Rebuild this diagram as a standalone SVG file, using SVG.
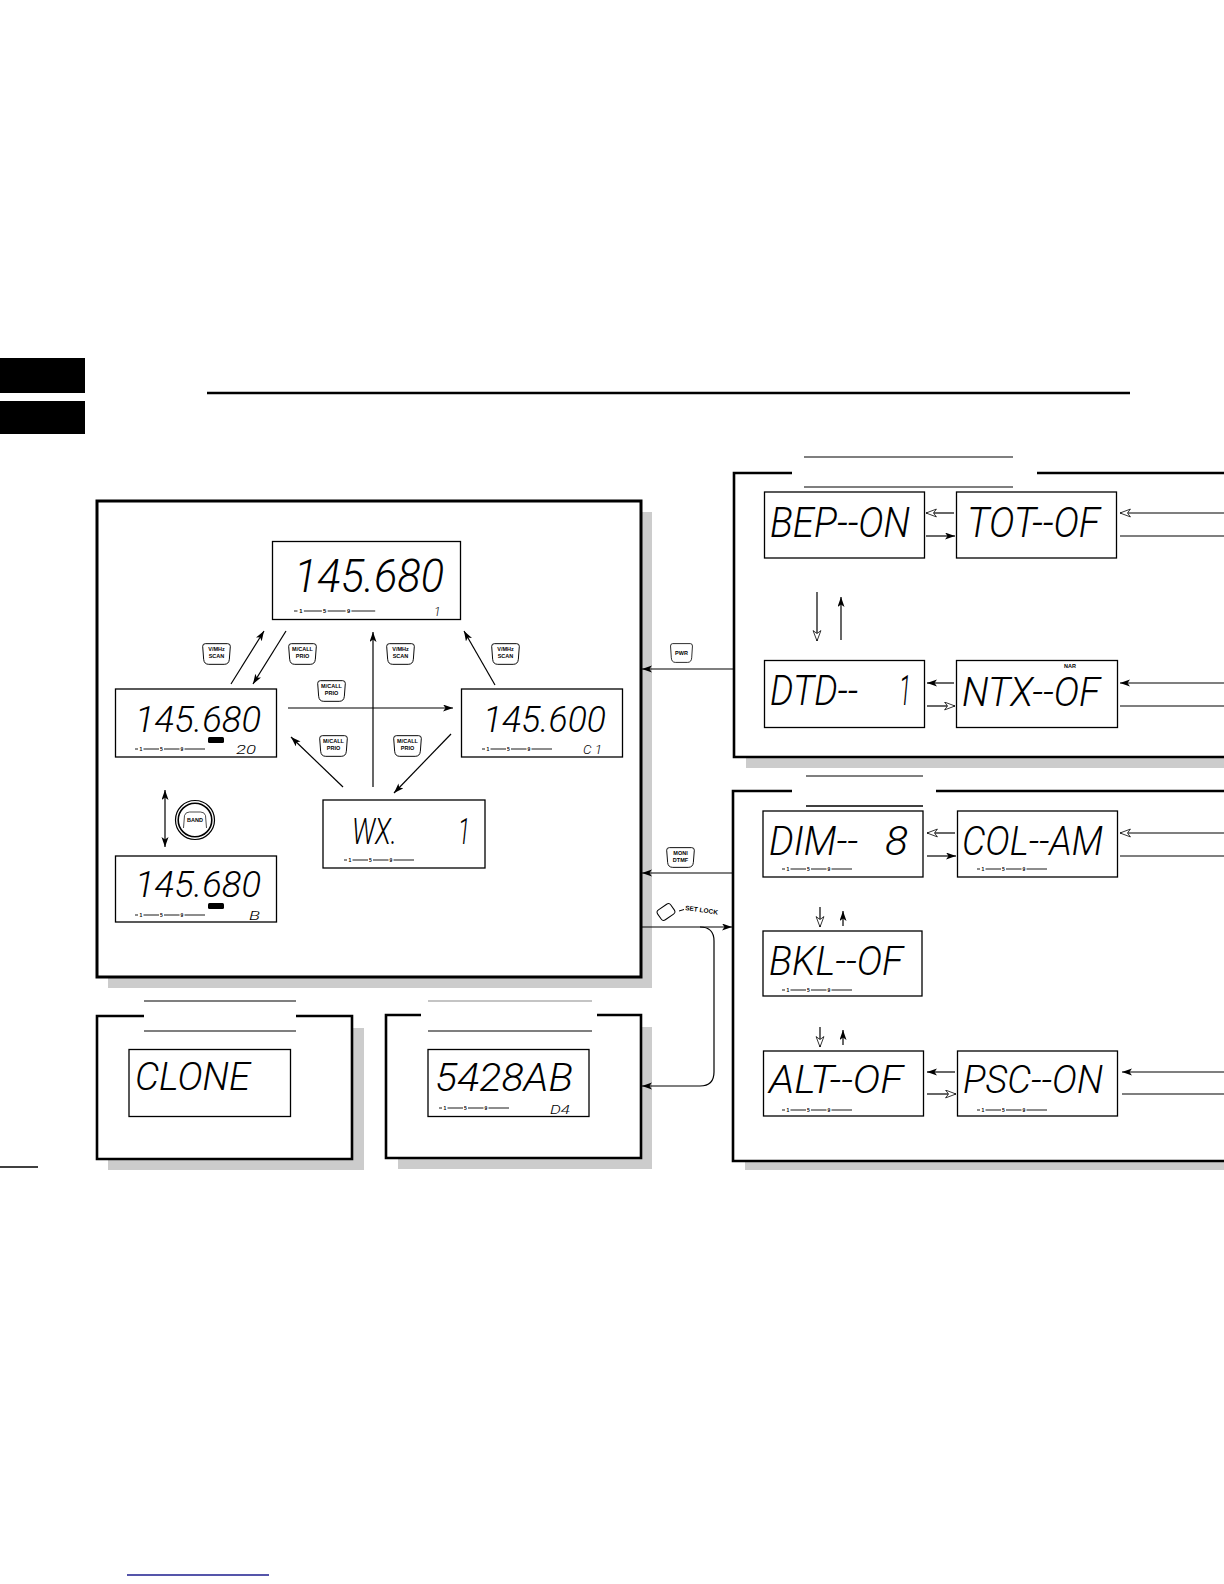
<svg xmlns="http://www.w3.org/2000/svg" xmlns:xlink="http://www.w3.org/1999/xlink" width="1224" height="1584" viewBox="0 0 1224 1584">
<style>
.lcd{fill:#fff;stroke:#000;stroke-width:1.3}
.seg{font-family:Roboto,"Liberation Sans",sans-serif;font-style:italic;font-weight:300;fill:#000}
.lbl{font-family:"Liberation Sans",Arial,sans-serif;font-weight:bold;font-size:5.5px;fill:#000;text-anchor:middle}
.cont{fill:none;stroke:#000;stroke-width:2.6}
.shadow{fill:#cccccc}
.ln{fill:none;stroke:#000;stroke-width:1.2}
.sm{font-family:"Liberation Sans",Arial,sans-serif;font-weight:bold;font-size:5px;fill:#000;text-anchor:middle}
</style>
<defs>
<marker id="aS" markerUnits="userSpaceOnUse" markerWidth="11" markerHeight="8" refX="10" refY="3.5" orient="auto-start-reverse">
<path d="M0,0 L10,3.5 L0,7 L2.5,3.5 Z" fill="#000"/>
</marker>
<marker id="aH" markerUnits="userSpaceOnUse" markerWidth="13" markerHeight="10" refX="11" refY="4.5" orient="auto">
<path d="M0.6,0.6 L11,4.5 L0.6,8.4 L3.5,4.5 Z" fill="#fff" stroke="#000" stroke-width="0.8"/>
</marker>
<symbol id="key" viewBox="0 0 30 23" preserveAspectRatio="none">
<path d="M3.5,0.7 H26.5 Q29.3,0.7 29.3,3.5 L28.3,17 Q27.8,22.3 23,22.3 H7 Q2.2,22.3 1.7,17 L0.7,3.5 Q0.7,0.7 3.5,0.7 Z" fill="#fff" stroke="#000" stroke-width="1"/>
</symbol>
<symbol id="smeter" viewBox="0 0 70 6" width="70" height="6" overflow="visible">
<line x1="0" y1="3" x2="3" y2="3" stroke="#000" stroke-width="0.9"/>
<text x="6" y="5" class="sm">1</text>
<line x1="8.5" y1="3" x2="24" y2="3" stroke="#000" stroke-width="0.9"/>
<text x="26.5" y="5" class="sm">5</text>
<line x1="29" y1="3" x2="44.5" y2="3" stroke="#000" stroke-width="0.9"/>
<text x="47" y="5" class="sm">9</text>
<line x1="49.5" y1="3" x2="70" y2="3" stroke="#000" stroke-width="0.9"/>
</symbol>
</defs>
<rect width="1224" height="1584" fill="#fff"/>

<!-- page header -->
<g id="header">
<rect x="0" y="358" width="85" height="35" fill="#000"/>
<rect x="0" y="401" width="85" height="33" fill="#000"/>
<line x1="207" y1="393" x2="1130" y2="393" stroke="#000" stroke-width="2.5"/>
<line x1="0" y1="1167" x2="38" y2="1167" stroke="#000" stroke-width="1.5"/>
<line x1="127" y1="1575" x2="269" y2="1575" stroke="#1c1c8e" stroke-width="1.5"/>
</g>

<!-- main box -->
<g id="main-box">
<rect x="108" y="512" width="544" height="476" class="shadow"/>
<rect x="97" y="501" width="544" height="476" fill="#fff" stroke="#000" stroke-width="3"/>
</g>

<g id="lcd-top">
<rect x="272.5" y="541.5" width="188" height="78" class="lcd"/>
<text x="294" y="592" class="seg" font-size="46" textLength="150" lengthAdjust="spacingAndGlyphs">145.680</text>
<text x="434" y="615.5" class="seg" font-size="12">1</text>
<use href="#smeter" x="0" y="0" transform="translate(294,608) scale(1.16,1)"/>
</g>

<g id="lcd-mem">
<rect x="115.5" y="689" width="161" height="68" class="lcd"/>
<text x="135" y="732" class="seg" font-size="37" textLength="126" lengthAdjust="spacingAndGlyphs">145.680</text>
<rect x="208" y="737" width="16" height="6" rx="1.5" fill="#000"/>
<text x="236" y="753.5" class="seg" font-size="12.5" textLength="20" lengthAdjust="spacingAndGlyphs">20</text>
<use href="#smeter" x="135" y="746"/>
</g>

<g id="lcd-call">
<rect x="461.5" y="689" width="161" height="68" class="lcd"/>
<text x="483" y="732" class="seg" font-size="37" textLength="123" lengthAdjust="spacingAndGlyphs">145.600</text>
<text x="583" y="753.5" class="seg" font-size="12.5" textLength="19" lengthAdjust="spacingAndGlyphs">C 1</text>
<use href="#smeter" x="482" y="746"/>
</g>

<g id="lcd-wx">
<rect x="323" y="800" width="162" height="68" class="lcd"/>
<text x="352" y="844" class="seg" font-size="36" textLength="45" lengthAdjust="spacingAndGlyphs">WX.</text>
<text x="458" y="844" class="seg" font-size="36" textLength="12" lengthAdjust="spacingAndGlyphs">1</text>
<use href="#smeter" x="344" y="857"/>
</g>

<g id="lcd-bank">
<rect x="115.5" y="856" width="161" height="66" class="lcd"/>
<text x="135" y="897" class="seg" font-size="37" textLength="126" lengthAdjust="spacingAndGlyphs">145.680</text>
<rect x="208" y="903" width="16" height="6" rx="1.5" fill="#000"/>
<text x="249" y="919.5" class="seg" font-size="12.5" textLength="11" lengthAdjust="spacingAndGlyphs">B</text>
<use href="#smeter" x="135" y="912"/>
</g>

<!-- keys in main box -->
<g id="key-vmhz-1"><use href="#key" x="202" y="643" width="29" height="22"/><text x="216.5" y="651" class="lbl">V/MHz</text><text x="216.5" y="658" class="lbl">SCAN</text></g>
<g id="key-mcall-1"><use href="#key" x="288" y="643" width="29" height="22"/><text x="302.5" y="651" class="lbl">M/CALL</text><text x="302.5" y="658" class="lbl">PRIO</text></g>
<g id="key-vmhz-2"><use href="#key" x="386" y="643" width="29" height="22"/><text x="400.5" y="651" class="lbl">V/MHz</text><text x="400.5" y="658" class="lbl">SCAN</text></g>
<g id="key-vmhz-3"><use href="#key" x="491" y="643" width="29" height="22"/><text x="505.5" y="651" class="lbl">V/MHz</text><text x="505.5" y="658" class="lbl">SCAN</text></g>
<g id="key-mcall-2"><use href="#key" x="317" y="680" width="29" height="22"/><text x="331.5" y="688" class="lbl">M/CALL</text><text x="331.5" y="695" class="lbl">PRIO</text></g>
<g id="key-mcall-3"><use href="#key" x="319" y="735" width="29" height="22"/><text x="333.5" y="743" class="lbl">M/CALL</text><text x="333.5" y="750" class="lbl">PRIO</text></g>
<g id="key-mcall-4"><use href="#key" x="393" y="735" width="29" height="22"/><text x="407.5" y="743" class="lbl">M/CALL</text><text x="407.5" y="750" class="lbl">PRIO</text></g>

<g id="key-band">
<circle cx="195" cy="820" r="19.5" fill="#fff" stroke="#000" stroke-width="1.2"/>
<circle cx="195" cy="820" r="16.8" fill="#fff" stroke="#000" stroke-width="1.6"/>
<path d="M183.5,828 L184.5,815.5 Q185.5,812 189.5,812 H200.5 Q204.5,812 205.5,815.5 L206.5,828" fill="none" stroke="#000" stroke-width="0.7"/>
<text x="195" y="822" class="lbl">BAND</text>
</g>

<g id="key-pwr"><use href="#key" x="670" y="643" width="23" height="20"/><text x="681.5" y="655" class="lbl">PWR</text></g>
<g id="key-moni"><use href="#key" x="666" y="847" width="29" height="21"/><text x="680.5" y="855" class="lbl">MONI</text><text x="680.5" y="862" class="lbl">DTMF</text></g>
<g id="key-setlock">
<rect x="-8" y="-6" width="16" height="12" rx="3" fill="#fff" stroke="#000" stroke-width="1" transform="translate(666,912) rotate(-35)"/>
<line x1="679" y1="911" x2="684" y2="909.5" stroke="#000" stroke-width="1"/>
<text x="685" y="910" font-family="'Liberation Sans',Arial,sans-serif" font-weight="bold" font-size="6.5" transform="rotate(8 685 910)">SET LOCK</text>
</g>

<!-- upper-right container -->
<g id="container-upper">
<rect x="746" y="485" width="490" height="283" class="shadow"/>
<rect x="734" y="473" width="500" height="284" fill="#fff"/>
<path d="M792,473 H734 V757 H1226 M1037,473 H1226" class="cont"/>
<line x1="804" y1="457" x2="1013" y2="457" stroke="#000" stroke-width="1.1"/>
<line x1="804" y1="487" x2="1013" y2="487" stroke="#000" stroke-width="1.1"/>
</g>
<g id="lcd-bep"><rect x="764.5" y="492" width="160" height="66" class="lcd"/><text x="770" y="537" class="seg" font-size="42" textLength="140" lengthAdjust="spacingAndGlyphs">BEP--ON</text></g>
<g id="lcd-tot"><rect x="956.5" y="492" width="160" height="66" class="lcd"/><text x="967" y="537" class="seg" font-size="42" textLength="133" lengthAdjust="spacingAndGlyphs">TOT--OF</text></g>
<g id="lcd-dtd"><rect x="764.5" y="660.5" width="160" height="67" class="lcd"/><text x="770" y="705" class="seg" font-size="42" textLength="88" lengthAdjust="spacingAndGlyphs">DTD--</text><text x="899" y="705" class="seg" font-size="42" textLength="12" lengthAdjust="spacingAndGlyphs">1</text></g>
<g id="lcd-ntx"><rect x="956.5" y="660.5" width="161" height="67" class="lcd" stroke-width="1.8"/><text x="962" y="706" class="seg" font-size="40" textLength="138" lengthAdjust="spacingAndGlyphs">NTX--OF</text><text x="1070" y="667.5" class="lbl">NAR</text></g>

<!-- lower-right container -->
<g id="container-lower">
<rect x="745" y="802" width="490" height="368" class="shadow"/>
<rect x="733" y="791" width="500" height="370" fill="#fff"/>
<path d="M792,791 H733 V1161 H1226 M936,791 H1226" class="cont"/>
<line x1="806" y1="776" x2="923" y2="776" stroke="#000" stroke-width="1.1"/>
<line x1="806" y1="806" x2="923" y2="806" stroke="#000" stroke-width="1.6"/>
</g>
<g id="lcd-dim"><rect x="763" y="811" width="160" height="66" class="lcd" stroke-width="1.8"/><text x="769" y="855" class="seg" font-size="41" textLength="89" lengthAdjust="spacingAndGlyphs">DIM--</text><text x="885" y="855" class="seg" font-size="41" textLength="23" lengthAdjust="spacingAndGlyphs">8</text><use href="#smeter" x="782" y="866"/></g>
<g id="lcd-col"><rect x="957.5" y="811" width="160" height="66" class="lcd"/><text x="962" y="855" class="seg" font-size="41" textLength="141" lengthAdjust="spacingAndGlyphs">COL--AM</text><use href="#smeter" x="977" y="866"/></g>
<g id="lcd-bkl"><rect x="763" y="931" width="159" height="65" class="lcd"/><text x="769" y="975" class="seg" font-size="41" textLength="134" lengthAdjust="spacingAndGlyphs">BKL--OF</text><use href="#smeter" x="782" y="987"/></g>
<g id="lcd-alt"><rect x="763.5" y="1051" width="160" height="65" class="lcd"/><text x="769" y="1093" class="seg" font-size="39" textLength="134" lengthAdjust="spacingAndGlyphs">ALT--OF</text><use href="#smeter" x="782" y="1107"/></g>
<g id="lcd-psc"><rect x="957.5" y="1051" width="160" height="65" class="lcd"/><text x="963" y="1093" class="seg" font-size="39" textLength="140" lengthAdjust="spacingAndGlyphs">PSC--ON</text><use href="#smeter" x="977" y="1107"/></g>

<!-- bottom containers -->
<g id="container-clone">
<rect x="108" y="1028" width="256" height="142" class="shadow"/>
<rect x="97" y="1016" width="255" height="143" fill="#fff"/>
<path d="M144,1016 H97 V1159 H352 V1016 H296" class="cont"/>
<line x1="144" y1="1001" x2="296" y2="1001" stroke="#000" stroke-width="1.1"/>
<line x1="144" y1="1031" x2="296" y2="1031" stroke="#000" stroke-width="1.1"/>
</g>
<g id="lcd-clone"><rect x="129" y="1049.5" width="161.5" height="67" class="lcd"/><text x="135" y="1090" class="seg" font-size="38" textLength="115" lengthAdjust="spacingAndGlyphs">CLONE</text></g>

<g id="container-dtmf">
<rect x="398" y="1027" width="254" height="142" class="shadow"/>
<rect x="386" y="1015" width="255" height="143" fill="#fff"/>
<path d="M421,1015 H386 V1158 H641 V1015 H597" class="cont"/>
<line x1="428" y1="1001" x2="592" y2="1001" stroke="#8a8a8a" stroke-width="1.1"/>
<line x1="428" y1="1031" x2="592" y2="1031" stroke="#000" stroke-width="1.1"/>
</g>
<g id="lcd-dtmf"><rect x="428" y="1049.5" width="161" height="67" class="lcd"/><text x="435" y="1091" class="seg" font-size="38" textLength="138" lengthAdjust="spacingAndGlyphs">5428AB</text><text x="550" y="1113.5" class="seg" font-size="13" textLength="20" lengthAdjust="spacingAndGlyphs">D4</text><use href="#smeter" x="439" y="1105"/></g>

<!-- connectors -->
<g id="connectors">
<path class="ln" d="M231,684 L264,631" marker-end="url(#aS)"/>
<path class="ln" d="M286,631 L253,684" marker-end="url(#aS)"/>
<path class="ln" d="M373,787 L373,632" marker-end="url(#aS)"/>
<path class="ln" d="M495,685 L464,631" marker-end="url(#aS)"/>
<path class="ln" d="M288,708 L453,708" marker-end="url(#aS)"/>
<path class="ln" d="M343,787 L291,737" marker-end="url(#aS)"/>
<path class="ln" d="M451,734 L394,793" marker-end="url(#aS)"/>
<path class="ln" d="M165,790 L165,847" marker-start="url(#aS)" marker-end="url(#aS)"/>

<path class="ln" d="M734,669 L642,669" marker-end="url(#aS)"/>
<path class="ln" d="M734,873 L642,873" marker-end="url(#aS)"/>
<path class="ln" d="M641,927 L732,927" marker-end="url(#aS)"/>
<path class="ln" d="M700,927 Q714,927 714,941 L714,1072 Q714,1086 700,1086 L642,1086" marker-end="url(#aS)"/>

<path class="ln" d="M954,513 L926,513" marker-end="url(#aH)"/>
<path class="ln" d="M926,536 L955,536" marker-end="url(#aS)"/>
<path class="ln" d="M1226,513 L1120,513" marker-end="url(#aH)"/>
<path class="ln" d="M1120,536 L1226,536"/>
<path class="ln" d="M817,592 L817,641" marker-end="url(#aH)"/>
<path class="ln" d="M841,640 L841,597" marker-end="url(#aS)"/>
<path class="ln" d="M954,683 L927,683" marker-end="url(#aS)"/>
<path class="ln" d="M927,706 L955,706" marker-end="url(#aH)"/>
<path class="ln" d="M1226,683 L1120,683" marker-end="url(#aS)"/>
<path class="ln" d="M1120,706 L1226,706"/>

<path class="ln" d="M955,833 L927,833" marker-end="url(#aH)" stroke-width="1.6"/>
<path class="ln" d="M927,856 L956,856" marker-end="url(#aS)"/>
<path class="ln" d="M1226,833 L1120,833" marker-end="url(#aH)" stroke-width="1.6"/>
<path class="ln" d="M1120,856 L1226,856"/>
<path class="ln" d="M820,907 L820,927" marker-end="url(#aH)"/>
<path class="ln" d="M843,926 L843,911" marker-end="url(#aS)"/>
<path class="ln" d="M820,1027 L820,1047" marker-end="url(#aH)"/>
<path class="ln" d="M843,1045 L843,1030" marker-end="url(#aS)"/>
<path class="ln" d="M955,1072 L927,1072" marker-end="url(#aS)"/>
<path class="ln" d="M927,1094 L956,1094" marker-end="url(#aH)"/>
<path class="ln" d="M1226,1072 L1122,1072" marker-end="url(#aS)"/>
<path class="ln" d="M1122,1094 L1226,1094"/>
</g>
</svg>
